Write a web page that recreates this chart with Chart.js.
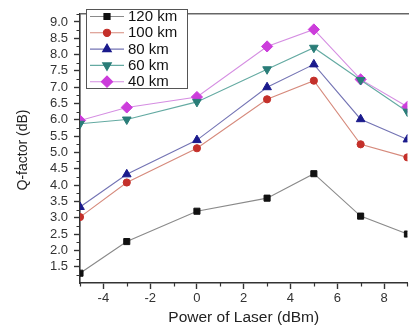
<!DOCTYPE html>
<html>
<head>
<meta charset="utf-8">
<script src="https://cdn.jsdelivr.net/npm/chart.js@4/dist/chart.umd.min.js"></script>
<style>
  html, body { margin: 0; padding: 0; background: #fff; overflow: hidden; }
  #wrap { width: 414px; height: 329px; }
</style>
</head>
<body>
<div id="wrap"><canvas id="myChart" width="414" height="329"></canvas></div>
<script>
// data
const powers = [-5, -3, 0, 3, 5, 7, 9];
const xTicks = [-4, -2, 0, 2, 4, 6, 8];
const q120 = [1.3, 2.27, 3.2, 3.6, 4.35, 3.05, 2.5];
const q100 = [3.02, 4.08, 5.13, 6.63, 7.2, 5.25, 4.85];
const q80 = [3.33, 4.33, 5.38, 7.0, 7.7, 6.02, 5.4];
const q60 = [5.88, 6.01, 6.55, 7.55, 8.21, 7.22, 6.25];
const q40 = [5.98, 6.38, 6.7, 8.25, 8.77, 7.24, 6.4];
const labels = ["120 km", "100 km", "80 km", "60 km", "40 km"];

const FONT = "'Liberation Sans', Arial, sans-serif";

const styles = [
  { values: q120, line: "#8a8a8a", mark: "#111111", pointStyle: "rect", radius: 4.3, rotation: 0 },
  { values: q100, line: "#d68a7c", mark: "#c4302a", pointStyle: "circle", radius: 3.6, rotation: 0 },
  { values: q80, line: "#7474b4", mark: "#1a1a8c", pointStyle: "triangle", radius: 5, rotation: 0 },
  { values: q60, line: "#64aaa2", mark: "#2a7d78", pointStyle: "triangle", radius: 5, rotation: 180 },
  { values: q40, line: "#d58ee2", mark: "#cc3ddb", pointStyle: "rectRot", radius: 5.6, rotation: 0 },
];

const datasets = styles.map((s, i) => ({
  label: labels[i],
  data: powers.map((p, j) => ({ x: p, y: s.values[j] })),
  borderColor: s.line,
  borderWidth: 1.1,
  pointStyle: s.pointStyle,
  pointRotation: s.rotation,
  pointRadius: s.radius,
  pointBackgroundColor: s.mark,
  pointBorderColor: s.mark,
  pointBorderWidth: 1,
  tension: 0,
}));

// minor ticks, top frame line, legend and axis titles
const decorations = {
  id: "decorations",
  afterDraw(chart) {
    const ctx = chart.ctx;
    const area = chart.chartArea;
    const x = chart.scales.x;
    const y = chart.scales.y;
    ctx.save();

    // top frame line
    ctx.strokeStyle = "#666";
    ctx.lineWidth = 1.6;
    ctx.beginPath();
    ctx.moveTo(area.left, area.top);
    ctx.lineTo(area.right + 5, area.top);
    ctx.stroke();

    // minor ticks
    ctx.strokeStyle = "#333";
    ctx.lineWidth = 1.2;
    ctx.beginPath();
    for (let v = 1.25; v < 9.3; v += 0.5) {
      const py = Math.round(y.getPixelForValue(v)) + 0.5;
      ctx.moveTo(area.left - 3.5, py);
      ctx.lineTo(area.left, py);
    }
    for (let v = -5; v <= 9; v += 2) {
      const px = Math.round(x.getPixelForValue(v)) + 0.5;
      ctx.moveTo(px, area.bottom);
      ctx.lineTo(px, area.bottom + 3.5);
    }
    ctx.stroke();

    // legend
    const lx = 86.5, ly = 9.5, lw = 101, lh = 79;
    ctx.fillStyle = "#fff";
    ctx.fillRect(lx, ly, lw, lh);
    ctx.strokeStyle = "#555";
    ctx.lineWidth = 1;
    ctx.strokeRect(lx, ly, lw, lh);
    ctx.font = "15px " + FONT;
    ctx.textBaseline = "middle";
    ctx.textAlign = "left";
    styles.forEach((s, i) => {
      const ry = 16.5 + i * 16.3;
      ctx.strokeStyle = s.line;
      ctx.lineWidth = 1.1;
      ctx.beginPath();
      ctx.moveTo(90, ry);
      ctx.lineTo(124, ry);
      ctx.stroke();
      ctx.fillStyle = s.mark;
      ctx.strokeStyle = s.mark;
      Chart.helpers.drawPoint(ctx, {
        pointStyle: s.pointStyle,
        rotation: s.rotation,
        radius: s.radius,
        borderWidth: 1,
      }, 107, ry);
      ctx.fillStyle = "#111";
      ctx.fillText(labels[i], 128, ry + 0.5);
    });

    // axis titles
    ctx.fillStyle = "#222";
    ctx.textAlign = "center";
    ctx.font = "15.5px " + FONT;
    ctx.fillText("Power of Laser (dBm)", (area.left + area.right) / 2, 318);
    ctx.translate(23, 150);
    ctx.rotate(-Math.PI / 2);
    ctx.font = "14px " + FONT;
    ctx.fillText("Q-factor (dB)", 0, 0);
    ctx.restore();
  },
};

new Chart(document.getElementById("myChart"), {
  type: "line",
  data: { datasets: datasets },
  options: {
    responsive: false,
    devicePixelRatio: 1,
    animation: false,
    layout: { padding: { top: 7, right: 2, left: 0, bottom: 0 } },
    plugins: {
      legend: { display: false },
      tooltip: { enabled: false },
    },
    scales: {
      x: {
        type: "linear",
        min: -5,
        max: 9,
        afterBuildTicks: (scale) => {
          scale.ticks = xTicks.map((v) => ({ value: v }));
        },
        afterFit: (scale) => {
          scale.height = 46;
        },
        grid: { drawOnChartArea: false, tickLength: 6, tickColor: "#333", tickWidth: 1.4 },
        border: { color: "#333", width: 1.6 },
        ticks: {
          autoSkip: false,
          padding: 2,
          color: "#333",
          font: { family: FONT, size: 13 },
          maxRotation: 0,
          callback: (v) => String(v),
        },
      },
      y: {
        type: "linear",
        min: 1.0,
        max: 9.25,
        afterBuildTicks: (scale) => {
          const t = [];
          for (let v = 1.5; v <= 9.0001; v += 0.5) t.push({ value: Math.round(v * 10) / 10 });
          scale.ticks = t;
        },
        afterFit: (scale) => {
          scale.width = 80;
        },
        grid: { drawOnChartArea: false, tickLength: 6, tickColor: "#333", tickWidth: 1.4 },
        border: { color: "#333", width: 1.6 },
        ticks: {
          autoSkip: false,
          padding: 6,
          color: "#333",
          font: { family: FONT, size: 13 },
          callback: (v) => Number(v).toFixed(1),
        },
      },
    },
  },
  plugins: [decorations],
});
</script>
</body>
</html>
